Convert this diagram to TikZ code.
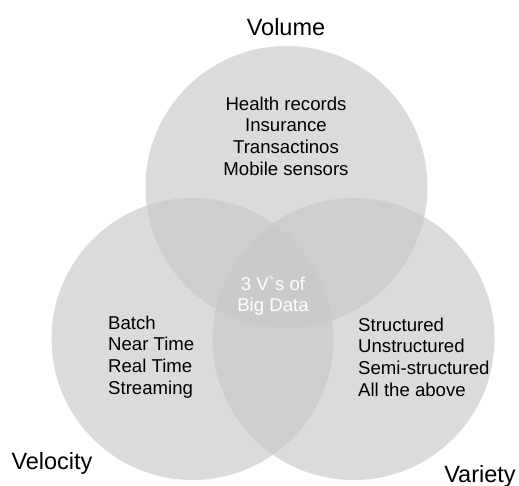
\documentclass[tikz,border=0pt]{standalone}
\usepackage{fontspec}
\setmainfont{Liberation Sans}
\usepackage{tikz}
\usetikzlibrary{positioning}
\definecolor{venngray}{RGB}{199,199,199}
\tikzstyle{venn}=[circle, fill=venngray, fill opacity=0.64, inner sep=0pt, minimum size=282pt]
\tikzstyle{vlabel}=[font=\fontsize{23.5}{28}\selectfont, inner sep=0pt]
\tikzstyle{items}=[font=\fontsize{18.6}{21.7}\selectfont, inner sep=0pt]

\begin{document}
\begin{tikzpicture}[x=1pt, y=1pt]
\useasboundingbox (0,0) rectangle (519,485);
\node[venn] at (286.5,298) (vol_c) {};
\node[venn] at (192.5,146) (vel_c) {};
\node[venn] at (353.5,146) (var_c) {};
\node[vlabel] at (286,458) (vol) {Volume};
\node[vlabel] at (52,22) (vel) {Velocity};
\node[vlabel] at (480,9) (var) {Variety};
\node[items, align=center] at (286,349) (vol_items) {Health records\\ Insurance\\ Transactinos\\ Mobile sensors};
\node[items, align=left, anchor=west] at (108,128) (vel_items) {Batch\\ Near Time\\ Real Time\\ Streaming};
\node[items, align=left, anchor=west] at (358,128) (var_items) {Structured\\ Unstructured\\ Semi-structured\\ All the above};
\node[items, align=center, text=white] at (273,189) (core) {3 V\textasciigrave s of\\ Big Data};
\end{tikzpicture}
\end{document}
